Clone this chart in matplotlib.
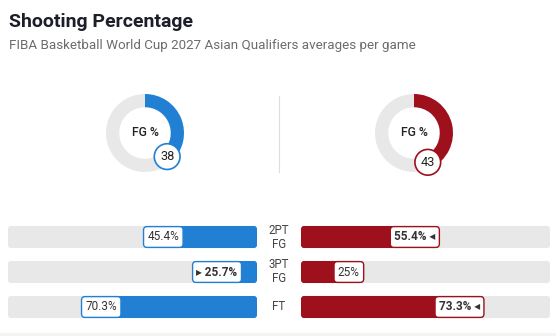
import matplotlib
matplotlib.use('Agg')
import matplotlib.pyplot as plt
from matplotlib.patches import Circle, FancyBboxPatch, Rectangle
import numpy as np

# data
fg_pct = [38, 43]
categories = ['2PT\nFG', '3PT\nFG', 'FT']
left_vals = [45.4, 25.7, 70.3]
right_vals = [55.4, 25.0, 73.3]
left_labels = ['45.4%', '25.7%', '70.3%']
right_labels = ['55.4%', '25%', '73.3%']

title = 'Shooting Percentage'
subtitle = 'FIBA Basketball World Cup 2027 Asian Qualifiers averages per game'

BLUE = '#2180d3'
RED = '#9e101c'
TRACK = '#e8e8e8'
DARK = '#1c1f2a'

plt.rcParams['font.family'] = ['Roboto', 'DejaVu Sans']

W, H = 556, 336
fig = plt.figure(figsize=(W / 100, H / 100), dpi=100)
fig.patch.set_facecolor('white')


def px_axes(x0, y0, w, h):
    # axes placed with pixel box (top-left origin)
    return fig.add_axes([x0 / W, 1 - (y0 + h) / H, w / W, h / H])


def round_bars(ax, bars, color, aspect):
    # swap plain barh rectangles for rounded ones with the same bounds
    for b in bars:
        x, y = b.get_x(), b.get_y()
        w, h = b.get_width(), b.get_height()
        b.remove()
        ax.add_patch(FancyBboxPatch((x, y), w, h,
                                    boxstyle='round,pad=0,rounding_size=1.2',
                                    mutation_aspect=aspect, facecolor=color,
                                    linewidth=0))


fig.text(9 / W, 1 - 22 / H, title, fontsize=14, fontweight='bold',
         color=DARK, va='center', ha='left')
fig.text(9 / W, 1 - 45 / H, subtitle, fontsize=9.6, color='#6b6b6b',
         va='center', ha='left')

# bottom strip
fig.add_artist(Rectangle((0, 0), 1, 3.5 / H, transform=fig.transFigure,
                         facecolor='#f6f4f0', linewidth=0))

# donuts
for val, cx, col in zip(fg_pct, [145, 414], [BLUE, RED]):
    r = 39
    ax = px_axes(cx - r, 133 - r, 2 * r, 2 * r)
    ax.pie([val, 100 - val], startangle=90, counterclock=False,
           colors=[col, TRACK], radius=1,
           wedgeprops=dict(width=0.34, linewidth=0))
    ax.set_xlim(-1, 1)
    ax.set_ylim(-1, 1)
    ax.text(0, 0, 'FG %', ha='center', va='center', fontsize=8.8,
            fontweight='medium', color='#222')
    ang = np.deg2rad(90 - val * 3.6)
    bx, by = 0.83 * np.cos(ang), 0.83 * np.sin(ang)
    ax.add_patch(Circle((bx, by), 0.33, facecolor='white', edgecolor=col,
                        linewidth=1.2, clip_on=False, zorder=5))
    ax.text(bx, by, str(val), ha='center', va='center', fontsize=9.2,
            color='#222', zorder=6)
    ax.axis('off')

# divider
fig.add_artist(plt.Line2D([279 / W, 279 / W], [1 - 96 / H, 1 - 172 / H],
                          color='#dddddd', linewidth=0.8))

# bars
rows = np.arange(len(categories))
axl = px_axes(8, 219.5, 249, 105)
axr = px_axes(301, 219.5, 249, 105)
aspect = (3 / 35) / 1.2

for ax, vals, labels, col, side in [(axl, left_vals, left_labels, BLUE, 'L'),
                                     (axr, right_vals, right_labels, RED, 'R')]:
    tr = ax.barh(rows, [100] * len(rows), height=0.63, color=TRACK, linewidth=0)
    br = ax.barh(rows, vals, height=0.63, color=col, linewidth=0)
    round_bars(ax, tr, TRACK, aspect)
    round_bars(ax, br, col, aspect)
    ax.set_ylim(2.5, -0.5)
    if side == 'L':
        ax.set_xlim(100, 0)
    else:
        ax.set_xlim(0, 100)
    ax.axis('off')

for i in rows:
    lv, rv = left_vals[i], right_vals[i]
    l_lead, r_lead = lv > rv, rv > lv
    ltxt = ('\u25B8 ' if l_lead else '') + left_labels[i]
    rtxt = right_labels[i] + (' \u25C2' if r_lead else '')
    axl.annotate(ltxt, (lv, i), xytext=(2.5, 0), textcoords='offset points',
                 ha='left', va='center', fontsize=8.5,
                 fontweight='bold' if l_lead else 'normal', color='#333',
                 family=['Roboto', 'DejaVu Sans'],
                 bbox=dict(boxstyle='round,pad=0.33,rounding_size=0.3',
                           facecolor='white', edgecolor=BLUE, linewidth=1))
    axr.annotate(rtxt, (rv, i), xytext=(-2.5, 0), textcoords='offset points',
                 ha='right', va='center', fontsize=8.5,
                 fontweight='bold' if r_lead else 'normal', color='#333',
                 family=['Roboto', 'DejaVu Sans'],
                 bbox=dict(boxstyle='round,pad=0.33,rounding_size=0.3',
                           facecolor='white', edgecolor=RED, linewidth=1))
    fig.text(279 / W, 1 - (237 + 35 * i) / H, categories[i], ha='center',
             va='center', fontsize=8.3, color='#444', linespacing=1.1)

fig.savefig('out.png', dpi=100)
